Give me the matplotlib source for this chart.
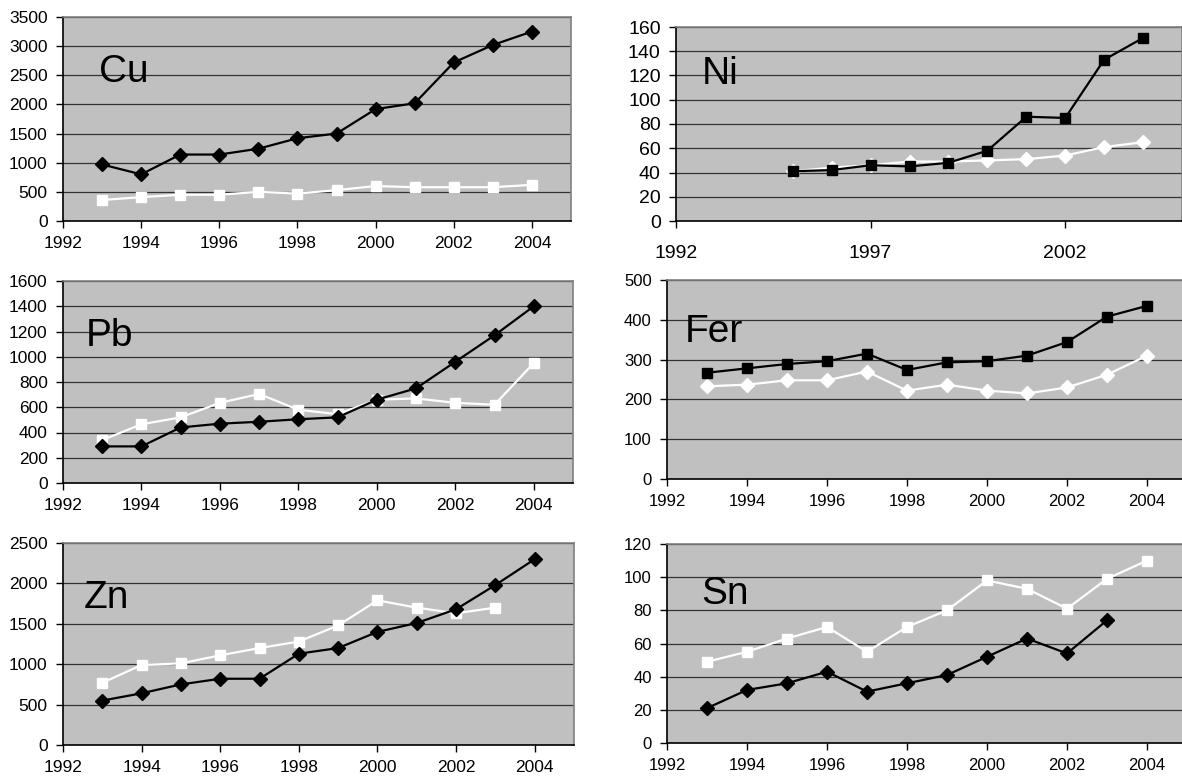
import matplotlib.pyplot as plt
import numpy as np

plt.rcParams['font.family'] = ['Liberation Sans', 'DejaVu Sans']

years = list(range(1993, 2005))
years_ni = list(range(1995, 2005))

# Cu
cu_black = [970, 800, 1140, 1140, 1240, 1420, 1500, 1920, 2020, 2720, 3020, 3250]
cu_white = [360, 410, 450, 450, 500, 470, 530, 600, 580, 580, 580, 620]
# Ni
ni_black = [41, 42, 46, 45, 48, 58, 86, 85, 133, 151]
ni_white = [41, 44, 46, 49, 49, 50, 51, 54, 61, 65]
# Pb
pb_black = [290, 290, 440, 470, 485, 505, 520, 660, 750, 960, 1170, 1400]
pb_white = [340, 465, 520, 635, 705, 580, 545, 660, 670, 635, 620, 950]
# Fer
fer_black = [267, 278, 289, 296, 315, 274, 293, 296, 310, 344, 408, 435]
fer_white = [233, 237, 248, 248, 270, 222, 237, 222, 215, 230, 262, 310]
# Zn
zn_black = [550, 640, 750, 820, 820, 1130, 1200, 1400, 1510, 1680, 1980, 2300]
zn_white = [770, 990, 1010, 1110, 1200, 1280, 1480, 1790, 1700, 1630, 1700]
# Sn
sn_black = [21, 32, 36, 43, 31, 36, 41, 52, 63, 54, 74]
sn_white = [49, 55, 63, 70, 55, 70, 80, 98, 93, 81, 99, 110]

W, H = 1182, 776
fig = plt.figure(figsize=(W / 100, H / 100), dpi=100)


def make_ax(left, top, right, bottom, size):
    ax = fig.add_axes([left / W, 1 - bottom / H, (right - left) / W, (bottom - top) / H])
    ax.set_facecolor('#c0c0c0')
    for s in ['top', 'right']:
        ax.spines[s].set_color('#808080')
        ax.spines[s].set_linewidth(1.2)
    for s in ['left', 'bottom']:
        ax.spines[s].set_color('black')
        ax.spines[s].set_linewidth(1.2)
    ax.grid(axis='y', color='#333333', linewidth=0.9)
    ax.set_axisbelow(True)
    ax.tick_params(direction='out', length=5, width=1, colors='black', labelsize=size, pad=6)
    return ax


def draw(ax, xb, yb, mb, xw, yw, mw, label, lx, ly, ylim, ystep, xticks):
    ax.plot(xw, yw, color='white', linewidth=1.6, marker=mw, markersize=7.5,
            markerfacecolor='white', markeredgecolor='white', zorder=3)
    ax.plot(xb, yb, color='black', linewidth=1.6, marker=mb, markersize=7.5,
            markerfacecolor='black', markeredgecolor='black', zorder=4)
    ax.set_xlim(1992, 2005)
    ax.set_ylim(0, ylim)
    ax.set_yticks(np.arange(0, ylim + 1, ystep))
    ax.set_xticks(xticks)
    ax.text(lx, ly, label, transform=ax.transAxes, fontsize=28, va='center', ha='left')


even = list(range(1992, 2005, 2))

ax = make_ax(63, 17, 571, 221, 12.5)
draw(ax, years, cu_black, 'D', years, cu_white, 's', 'Cu', 0.07, 0.73, 3500, 500, even)

ax = make_ax(676, 27, 1182, 221, 14)
draw(ax, years_ni, ni_black, 's', years_ni, ni_white, 'D', 'Ni', 0.05, 0.76, 160, 20, [1992, 1997, 2002])
ax.tick_params(axis='x', pad=12)

ax = make_ax(63, 281, 573, 483, 12.5)
draw(ax, years, pb_black, 'D', years, pb_white, 's', 'Pb', 0.045, 0.73, 1600, 200, even)

ax = make_ax(667, 280, 1187, 479, 12)
draw(ax, years, fer_black, 's', years, fer_white, 'D', 'Fer', 0.035, 0.74, 500, 100, even)

ax = make_ax(63, 543, 574, 745, 12.5)
draw(ax, years, zn_black, 'D', years[:11], zn_white, 's', 'Zn', 0.04, 0.73, 2500, 500, even)

ax = make_ax(667, 544, 1187, 743, 12)
draw(ax, years[:11], sn_black, 'D', years, sn_white, 's', 'Sn', 0.065, 0.75, 120, 20, even)

fig.savefig('out.png', dpi=100)
